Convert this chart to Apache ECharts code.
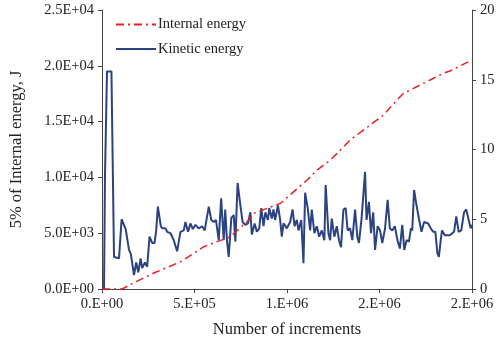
<!DOCTYPE html>
<html>
<head>
<meta charset="utf-8">
<script src="https://cdn.jsdelivr.net/npm/echarts@6/dist/echarts.min.js"></script>
<style>html,body{margin:0;padding:0;background:#fff}#c{width:500px;height:345px}</style>
</head>
<body>
<div id="c"></div>
<script>
// Internal energy (5%, J) – left axis
const internalX = [0, 60000, 110000, 165000, 280000, 426000, 550000, 695000, 793000, 821000, 965000, 1109000, 1163000, 1235000, 1342000, 1414000, 1522000, 1594000, 1630000, 1720000, 1845000, 1881000, 2000000];
const internalY = [0, 0, 0, 510, 1430, 2450, 3790, 4690, 6180, 6780, 7680, 9770, 10660, 11560, 13350, 14250, 15590, 16935, 17540, 18280, 19330, 19530, 20520];

// Kinetic energy (J) – right axis
const kineticX = [0, 11000, 16000, 27000, 51000, 65000, 92000, 106000, 128000, 146000, 156000, 173000, 185000, 196000, 209000, 217000, 232000, 244000, 257000, 271000, 284000, 293000, 302000, 318000, 325000, 343000, 352000, 370000, 388000, 406000, 424000, 442000, 451000, 465000, 478000, 491000, 505000, 523000, 541000, 555000, 577000, 591000, 604000, 616000, 631000, 644000, 658000, 666000, 676000, 685000, 699000, 712000, 721000, 733000, 748000, 760000, 775000, 789000, 802000, 810000, 825000, 837000, 850000, 861000, 873000, 883000, 897000, 904000, 918000, 927000, 936000, 951000, 963000, 972000, 981000, 999000, 1017000, 1030000, 1041000, 1053000, 1062000, 1077000, 1089000, 1098000, 1112000, 1125000, 1134000, 1148000, 1161000, 1174000, 1188000, 1202000, 1209000, 1224000, 1233000, 1242000, 1256000, 1269000, 1281000, 1292000, 1305000, 1317000, 1328000, 1341000, 1353000, 1368000, 1380000, 1389000, 1403000, 1422000, 1430000, 1443000, 1454000, 1466000, 1476000, 1490000, 1503000, 1515000, 1530000, 1544000, 1556000, 1569000, 1583000, 1597000, 1610000, 1623000, 1634000, 1646000, 1659000, 1670000, 1677000, 1687000, 1700000, 1713000, 1727000, 1741000, 1763000, 1777000, 1790000, 1802000, 1813000, 1821000, 1831000, 1838000, 1853000, 1880000, 1903000, 1915000, 1928000, 1942000, 1957000, 1969000, 1982000, 1993000, 2000000];
const kineticY = [0, 0, 8, 15.6, 15.6, 2.3, 2.2, 5.0, 4.3, 2.8, 2.5, 1.0, 1.9, 1.2, 2.2, 1.5, 1.9, 1.6, 3.75, 3.3, 3.3, 4.2, 5.9, 4.5, 4.35, 4.35, 4.1, 4.0, 3.5, 2.7, 4.1, 4.2, 4.8, 4.1, 4.7, 4.3, 4.6, 4.35, 4.5, 4.2, 5.9, 4.95, 4.8, 4.95, 3.5, 6.5, 3.5, 5.7, 3.4, 2.3, 5.1, 5.3, 3.4, 7.6, 6.0, 4.8, 4.6, 4.7, 5.5, 3.9, 4.7, 4.1, 4.35, 5.8, 4.5, 5.5, 4.95, 5.8, 5.05, 5.7, 4.95, 6.0, 4.95, 3.75, 4.7, 4.35, 4.8, 5.7, 4.5, 4.95, 4.2, 4.95, 1.85, 6.9, 5.8, 4.2, 5.7, 4.0, 4.5, 3.75, 4.2, 3.5, 7.45, 4.0, 3.5, 5.05, 3.75, 4.5, 3.5, 3.0, 5.7, 5.8, 4.2, 4.35, 3.5, 5.7, 3.75, 3.3, 5.05, 8.4, 4.95, 6.25, 4.0, 5.5, 2.8, 4.5, 4.2, 3.3, 4.35, 6.4, 4.35, 4.2, 4.5, 3.5, 2.9, 4.6, 2.8, 3.5, 3.4, 4.35, 4.2, 7.1, 6.0, 5.05, 4.1, 4.8, 4.7, 4.35, 4.1, 4.1, 2.55, 2.3, 3.5, 4.2, 3.85, 3.85, 4.1, 5.2, 4.1, 4.2, 5.5, 5.7, 4.95, 4.35, 4.6];

const xTickLabels = ['0.E+00', '5.E+05', '1.E+06', '2.E+06', '2.E+06'];
const leftTickLabels = ['0.0E+00', '5.0E+03', '1.0E+04', '1.5E+04', '2.0E+04', '2.5E+04'];
const rightTickLabels = ['0', '5', '10', '15', '20'];

const seriesNames = ['Internal energy', 'Kinetic energy'];

const font = '"Liberation Serif", "Times New Roman", serif';
const axisColor = '#444';
const textColor = '#222';

const chart = echarts.init(document.getElementById('c'), null, {renderer: 'canvas'});
chart.setOption({
  animation: false,
  backgroundColor: '#fff',
  textStyle: {fontFamily: font},
  grid: {left: 101, right: 28, top: 10, bottom: 56, containLabel: false},
  legend: {
    orient: 'vertical',
    left: 110,
    top: 12,
    itemWidth: 40,
    itemHeight: 14,
    itemGap: 9.5,
    data: seriesNames,
    itemStyle: {opacity: 0},
    textStyle: {fontFamily: font, fontSize: 14.5, color: textColor, padding: [0, 0, 0, -3]}
  },
  xAxis: {
    type: 'value',
    min: 0, max: 2000000, interval: 500000,
    name: 'Number of increments',
    nameLocation: 'middle',
    nameGap: 32,
    nameTextStyle: {fontFamily: font, fontSize: 16.5, color: textColor},
    axisLine: {show: true, lineStyle: {color: axisColor, width: 1}},
    axisTick: {show: true, length: 4, inside: false, lineStyle: {color: axisColor}},
    axisLabel: {fontFamily: font, fontSize: 14.5, color: textColor, margin: 8,
      formatter: (v) => xTickLabels[Math.round(v / 500000)]},
    splitLine: {show: false}
  },
  yAxis: [{
    type: 'value',
    min: 0, max: 25000, interval: 5000,
    name: '5% of Internal energy, J',
    nameLocation: 'middle',
    nameGap: 77,
    nameTextStyle: {fontFamily: font, fontSize: 16.5, color: textColor},
    axisLine: {show: true, lineStyle: {color: axisColor, width: 1}},
    axisTick: {show: true, length: 4, lineStyle: {color: axisColor}},
    axisLabel: {fontFamily: font, fontSize: 14.5, color: textColor, margin: 8,
      formatter: (v) => leftTickLabels[Math.round(v / 5000)]},
    splitLine: {show: false}
  }, {
    type: 'value',
    position: 'right',
    min: 0, max: 20, interval: 5,
    axisLine: {show: true, lineStyle: {color: axisColor, width: 1}},
    axisTick: {show: true, length: 4, lineStyle: {color: axisColor}},
    axisLabel: {fontFamily: font, fontSize: 14.5, color: textColor, margin: 8,
      formatter: (v) => rightTickLabels[Math.round(v / 5)]},
    splitLine: {show: false}
  }],
  series: [{
    name: seriesNames[0],
    type: 'line',
    yAxisIndex: 0,
    showSymbol: false,
    symbol: 'none',
    data: internalX.map((x, i) => [x, internalY[i]]),
    lineStyle: {color: '#ee1c25', width: 1.5, type: [8, 4, 2, 4]},
    itemStyle: {color: '#ee1c25'},
    z: 3
  }, {
    name: seriesNames[1],
    type: 'line',
    yAxisIndex: 1,
    showSymbol: false,
    symbol: 'none',
    data: kineticX.map((x, i) => [x, kineticY[i]]),
    lineStyle: {color: '#2b4381', width: 2},
    itemStyle: {color: '#2b4381'},
    z: 2
  }]
});
</script>
</body>
</html>
